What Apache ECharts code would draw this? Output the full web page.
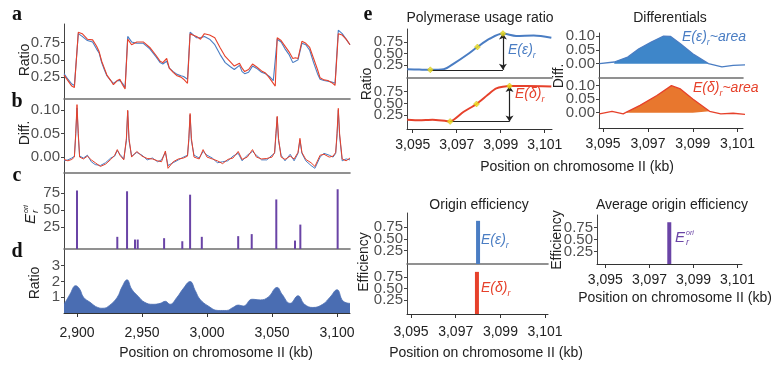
<!DOCTYPE html>
<html>
<head>
<meta charset="utf-8">
<script src="https://cdn.jsdelivr.net/npm/echarts@6/dist/echarts.min.js"></script>
<style>html,body{margin:0;padding:0;background:#fff}#chart{width:771px;height:367px}</style>
</head>
<body>
<div id="chart"></div>
<script>
// ---- panel a : polymerase usage ratio along the chromosome
var aPos = [2890, 2893, 2896, 2898, 2899.5, 2901, 2904, 2908, 2912, 2915, 2917, 2919, 2921, 2923, 2926, 2928, 2931, 2933, 2935, 2937,
  2938, 2939, 2942, 2946, 2951, 2956, 2961, 2964, 2966, 2969, 2971, 2974, 2977, 2980, 2982, 2985, 2986, 2987, 2989, 2992,
  2995, 2998, 3002, 3006, 3010, 3014, 3018, 3021, 3025, 3027, 3029, 3032, 3035, 3038, 3042, 3045, 3048, 3051, 3052.5, 3054,
  3057, 3060, 3063, 3066, 3068, 3070, 3071.5, 3073, 3076, 3079, 3082, 3085, 3087, 3090, 3093, 3096, 3098.5, 3099.5, 3101, 3104,
  3107, 3110];
var aRed = [0.28, 0.20, 0.12, 0.10, 0.12, 0.90, 0.88, 0.80, 0.79, 0.70, 0.62, 0.48, 0.38, 0.28, 0.20, 0.14, 0.20, 0.22, 0.14, 0.08,
  0.06, 0.80, 0.72, 0.76, 0.76, 0.68, 0.56, 0.48, 0.46, 0.52, 0.38, 0.32, 0.27, 0.25, 0.22, 0.16, 0.14, 0.88, 0.86, 0.84,
  0.80, 0.88, 0.86, 0.82, 0.68, 0.55, 0.47, 0.41, 0.45, 0.38, 0.33, 0.36, 0.44, 0.40, 0.34, 0.31, 0.24, 0.16, 0.12, 0.82,
  0.78, 0.70, 0.62, 0.52, 0.53, 0.52, 0.54, 0.77, 0.74, 0.68, 0.52, 0.36, 0.24, 0.21, 0.20, 0.17, 0.13, 0.12, 0.88, 0.86,
  0.80, 0.72];
var aBlue = [0.30, 0.22, 0.15, 0.13, 0.14, 0.88, 0.84, 0.78, 0.76, 0.66, 0.60, 0.46, 0.36, 0.27, 0.20, 0.16, 0.20, 0.20, 0.16, 0.10,
  0.10, 0.84, 0.76, 0.74, 0.74, 0.66, 0.54, 0.46, 0.44, 0.48, 0.38, 0.33, 0.29, 0.27, 0.26, 0.22, 0.20, 0.90, 0.87, 0.82,
  0.82, 0.84, 0.80, 0.72, 0.58, 0.46, 0.40, 0.36, 0.42, 0.33, 0.30, 0.32, 0.41, 0.38, 0.32, 0.30, 0.26, 0.20, 0.18, 0.80,
  0.76, 0.66, 0.58, 0.46, 0.48, 0.50, 0.52, 0.74, 0.72, 0.64, 0.46, 0.30, 0.22, 0.20, 0.19, 0.18, 0.16, 0.15, 0.93, 0.88,
  0.80, 0.72];

// ---- panel b : differentials
var bPos = [2890, 2893, 2896, 2898, 2899, 2900, 2901, 2902, 2905, 2908, 2911, 2914, 2918, 2922, 2926, 2929, 2931, 2933, 2936, 2938,
  2939, 2940, 2942, 2946, 2950, 2954, 2958, 2962, 2965, 2968, 2970, 2974, 2978, 2982, 2985, 2986, 2987, 2988, 2990, 2994,
  2997, 3000, 3004, 3008, 3012, 3016, 3020, 3024, 3027, 3031, 3035, 3038, 3042, 3046, 3050, 3052, 3053, 3054, 3055, 3057,
  3060, 3064, 3067, 3070, 3071.5, 3073, 3076, 3080, 3083, 3087, 3090, 3094, 3097, 3099, 3100, 3101, 3102, 3104, 3107, 3110];
var bRed = [-0.005, -0.008, -0.005, 0.0, 0.05, 0.112, 0.05, 0.0, -0.004, 0.002, -0.006, -0.012, -0.02, -0.015, -0.005, 0.004, 0.016, 0.004, -0.006, 0.04,
  0.10, 0.04, 0.0, 0.012, 0.002, -0.003, -0.004, -0.008, -0.01, 0.013, -0.024, -0.01, -0.004, -0.002, 0.002, 0.04, 0.093, 0.04, 0.0, -0.004,
  0.016, 0.0, -0.004, -0.008, -0.014, -0.005, -0.002, 0.012, -0.005, 0.0, 0.016, 0.0, -0.004, -0.003, 0.0, 0.01, 0.05, 0.087, 0.04, 0.0,
  -0.005, 0.002, -0.004, 0.01, 0.04, 0.01, -0.005, -0.012, -0.02, 0.004, 0.006, 0.0, 0.002, 0.01, 0.05, 0.104, 0.05, -0.004, -0.008, -0.002];
var bBlue = [-0.008, -0.006, -0.002, 0.002, 0.045, 0.105, 0.045, 0.002, -0.002, 0.004, -0.01, -0.016, -0.018, -0.012, -0.002, 0.002, 0.014, 0.006, -0.004, 0.035,
  0.098, 0.035, 0.002, 0.01, 0.004, -0.006, -0.002, -0.01, -0.006, 0.01, -0.018, -0.012, -0.006, 0.0, 0.004, 0.035, 0.09, 0.035, 0.004, -0.002,
  0.012, 0.004, -0.002, -0.012, -0.01, -0.008, 0.002, 0.008, -0.008, 0.004, 0.012, 0.004, -0.006, -0.006, 0.004, 0.008, 0.045, 0.085, 0.035, 0.004,
  -0.008, 0.006, -0.008, 0.008, 0.036, 0.008, -0.008, -0.018, -0.024, 0.0, 0.008, 0.004, 0.0, 0.008, 0.045, 0.1, 0.045, -0.008, -0.004, -0.006];

// ---- panel c : average origin efficiency
var cPos = [2900, 2931, 2938.5, 2944.6, 2946.7, 2967, 2981, 2987, 2996, 3024, 3034.4, 3053.3, 3067.7, 3071.8, 3100.5];
var cVal = [79, 11, 78, 7, 7, 9, 4.5, 73, 11, 12, 15, 66, 5.5, 29, 81];

// ---- panel d : ratio
var dPos = [2890, 2891, 2894.6, 2899, 2902, 2905, 2910, 2916, 2920, 2925, 2931, 2934.6, 2938.5, 2942, 2947, 2952, 2958.5, 2964, 2968, 2971.5,
  2977, 2981.5, 2987, 2991, 2994.6, 3001, 3008.5, 3015, 3020, 3024, 3028, 3034.6, 3041, 3047, 3054, 3057.7, 3064, 3070, 3075, 3081.5,
  3089, 3094.6, 3100, 3104.6, 3110];
var dVal = [0.6, 0.68, 1.19, 1.73, 1.52, 1.0, 0.68, 0.35, 0.3, 0.48, 1.0, 1.64, 2.1, 1.52, 1.06, 0.68, 0.55, 0.61, 0.74, 0.55,
  1.0, 1.52, 1.99, 1.41, 0.87, 0.44, 0.16, 0.16, 0.35, 0.5, 0.44, 0.87, 0.83, 1.0, 1.62, 1.19, 0.61, 1.09, 0.55, 0.35,
  0.55, 1.0, 1.47, 0.76, 0.61];

// ---- panel e : zoom on one origin
var epsPos = [3094.75, 3095.3, 3095.8, 3096.4, 3096.9, 3097.45, 3097.94, 3098.5, 3099.1, 3099.7, 3100.5, 3101.3];
var epsRatio = [0.157, 0.15, 0.145, 0.157, 0.29, 0.465, 0.64, 0.82, 0.93, 0.88, 0.89, 0.84];
var delPos = [3094.75, 3095.3, 3095.9, 3096.7, 3097.3, 3097.9, 3098.4, 3098.8, 3099.4, 3100.2, 3101.3];
var delRatio = [0.157, 0.145, 0.157, 0.12, 0.32, 0.49, 0.68, 0.82, 0.87, 0.87, 0.86];
var epsKnots = [[3095.8, 0.145], [3097.94, 0.64], [3099.1, 0.93]];
var delKnots = [[3096.7, 0.12], [3097.9, 0.49], [3099.4, 0.87]];

var epsDiffPos = [3094.84, 3095.5, 3096.1, 3096.6, 3097.15, 3097.7, 3098.0, 3098.45, 3099.0, 3099.7, 3100.3, 3100.8, 3101.4];
var epsDiff = [0.0, 0.006, 0.024, 0.054, 0.078, 0.10, 0.099, 0.072, 0.036, 0.0, -0.012, -0.006, -0.004];
var delDiffPos = [3094.84, 3095.4, 3095.9, 3096.0, 3096.65, 3097.4, 3098.05, 3098.45, 3099.0, 3099.75, 3100.25, 3100.8, 3101.4];
var delDiff = [-0.004, 0.005, -0.004, 0.0, 0.027, 0.063, 0.099, 0.087, 0.05, 0.005, -0.004, -0.002, -0.007];
var epsArea = [3095.5, 3099.7];
var delArea = [3096.0, 3099.75];

var originPos = [3098.0, 3097.95, 3097.9];   // eps, delta, average
var originEff = [0.88, 0.86, 0.86];

var kbTicks = [2900, 2950, 3000, 3050, 3100];
var zoomTicks = [3095, 3097, 3099, 3101];

var BLUE = '#4a7dc3', RED = '#e6412b', PURPLE = '#6a44a6';
var FONT = 'Liberation Sans';

function zip(xs, ys) { return xs.map(function(x, i) { return [x, ys[i]]; }); }
function within(pts, r) { return pts.filter(function(p) { return p[0] >= r[0] && p[0] <= r[1]; }); }
function kbFmt(v) { return String(Math.round(v)).replace(/\B(?=(\d{3})+(?!\d))/g, ','); }

var boxes = [
  [64, 24, 286, 75], [64, 99, 286, 74], [64, 173, 286, 76], [64, 249, 286, 64],
  [407, 29, 145, 49], [407, 78, 145, 51], [599, 33, 144, 45], [599, 78, 144, 50],
  [407, 213, 141, 51], [407, 264, 141, 50], [597, 215, 145, 49]
];
var xr = [[2890, 3110], [2890, 3110], [2890, 3110], [2890, 3110],
  [3094.74, 3101.33], [3094.74, 3101.33], [3094.82, 3101.24], [3094.82, 3101.24],
  [3094.82, 3101.13], [3094.82, 3101.13], [3094.62, 3101.2]];
var yr = [[-0.067, 1.02], [-0.034, 0.124], [-6.9, 104.9], [0, 4.05],
  [-0.033, 1.03], [-0.04, 1.04], [-0.052, 0.111], [-0.056, 0.127],
  [-0.03, 1.045], [-0.05, 1.03], [-0.006, 1.01]];
var yTicks = [[0.25, 0.5, 0.75], [0, 0.05, 0.1], [25, 50, 75], [1, 2, 3],
  [0.25, 0.5, 0.75], [0.25, 0.5, 0.75], [0, 0.05, 0.1], [0, 0.05, 0.1],
  [0.25, 0.5, 0.75], [0.25, 0.5, 0.75], [0.25, 0.5, 0.75]];
var yDigits = [2, 2, 0, 0, 2, 2, 2, 2, 2, 2, 2];
// which grids carry a labelled x axis, and the label margin
var xLabelled = {3: 13, 5: 9, 7: 9, 9: 11, 10: 9};

var grids = [], xAxes = [], yAxes = [], tickLabels = [];
boxes.forEach(function(b, i) {
  grids.push({left: b[0], top: b[1], width: b[2], height: b[3], containLabel: false, outerBoundsMode: 'none'});
  var lab = xLabelled[i];
  var ticks = i < 4 ? kbTicks : zoomTicks;
  xAxes.push({
    type: 'value', gridIndex: i, min: xr[i][0], max: xr[i][1], splitLine: {show: false},
    axisLine: {onZero: false, lineStyle: lab ? {color: '#333', width: 1} : {color: '#6e6e6e', width: 1.6}},
    axisTick: {show: !!lab, customValues: ticks, length: 4, lineStyle: {color: '#333'}},
    axisLabel: {show: !!lab, customValues: ticks, margin: lab || 8, showMinLabel: true, showMaxLabel: true,
      formatter: kbFmt, color: '#222', fontSize: 14, fontFamily: FONT}
  });
  yAxes.push({
    type: 'value', gridIndex: i, min: yr[i][0], max: yr[i][1], splitLine: {show: false},
    axisLine: {show: true, onZero: false, lineStyle: {color: '#444', width: 1}},
    axisTick: {customValues: yTicks[i], length: 3, lineStyle: {color: '#444'}},
    axisLabel: {show: false}
  });
  // y tick labels placed through the grid's own scale (axis labels get thinned when packed this tight)
  tickLabels.push({
    type: 'scatter', xAxisIndex: i, yAxisIndex: i, clip: false, silent: true, symbolSize: 0,
    data: yTicks[i].map(function(t) { return [xr[i][0], t]; }),
    label: {show: true, position: 'left', distance: 4, color: '#222', fontSize: 15, fontFamily: FONT,
      formatter: (function(d) { return function(p) { return p.value[1].toFixed(d); }; })(yDigits[i])}
  });
});

function line(g, pts, color, w, extra) {
  var s = {type: 'line', xAxisIndex: g, yAxisIndex: g, data: pts, showSymbol: false, symbol: 'none',
    lineStyle: {color: color, width: w}, itemStyle: {color: color}};
  for (var k in extra) s[k] = extra[k];
  return s;
}
function bars(g, pts, color, w) {
  return {type: 'custom', xAxisIndex: g, yAxisIndex: g, data: pts, itemStyle: {color: color},
    renderItem: function(params, api) {
      var top = api.coord([api.value(0), api.value(1)]);
      var cs = params.coordSys;
      return {type: 'rect', shape: {x: top[0] - w / 2, y: top[1], width: w, height: cs.y + cs.height - top[1]}, style: api.style()};
    }};
}
function knots(g, pts) {
  var a = pts[0], c = pts[2];
  return {type: 'scatter', xAxisIndex: g, yAxisIndex: g, data: pts, symbol: 'diamond', symbolSize: 6, z: 5,
    itemStyle: {color: '#f2e21a', borderColor: '#b8a800', borderWidth: 0.5},
    markLine: {silent: true, symbol: ['none', 'none'], label: {show: false}, animation: false,
      lineStyle: {color: '#222', width: 1.2, type: 'solid'},
      data: [
        [{coord: [a[0], a[1]]}, {coord: [c[0], a[1]]}],
        [{coord: [c[0], a[1]], symbol: 'arrow', symbolSize: 6}, {coord: [c[0], c[1]], symbol: 'arrow', symbolSize: 6}]
      ]}};
}

var series = [
  line(0, zip(aPos, aBlue), BLUE, 1.1), line(0, zip(aPos, aRed), RED, 1.1),
  line(1, zip(bPos, bBlue), BLUE, 1), line(1, zip(bPos, bRed), RED, 1),
  bars(2, zip(cPos, cVal), PURPLE, 2),
  line(3, zip(dPos, dVal), '#4a6db2', 0.8, {smooth: 0.45, areaStyle: {color: '#4a6db2', opacity: 1, origin: 'start'}}),
  line(4, zip(epsPos, epsRatio), BLUE, 2, {smooth: 0.3}), knots(4, epsKnots),
  line(5, zip(delPos, delRatio), RED, 2, {smooth: 0.2}), knots(5, delKnots),
  line(6, within(zip(epsDiffPos, epsDiff), epsArea), '#3e86c9', 0, {areaStyle: {color: '#3e86c9', opacity: 1}}),
  line(6, zip(epsDiffPos, epsDiff), BLUE, 1.3),
  line(7, within(zip(delDiffPos, delDiff), delArea), '#e8772e', 0, {areaStyle: {color: '#e8772e', opacity: 1}}),
  line(7, zip(delDiffPos, delDiff), RED, 1.3),
  bars(8, [[originPos[0], originEff[0]]], BLUE, 4),
  bars(9, [[originPos[1], originEff[1]]], RED, 4),
  bars(10, [[originPos[2], originEff[2]]], PURPLE, 4)
].concat(tickLabels);

function txt(x, y, s, opt) {
  opt = opt || {};
  return {type: 'text', x: x, y: y, rotation: opt.rot || 0, silent: true,
    style: {text: s, fill: opt.color || '#222', align: opt.align || 'center', verticalAlign: 'middle',
      font: opt.font || ('14px "' + FONT + '"'), rich: opt.rich}};
}
function sub(color) {
  return {m: {fill: color, fontSize: 14, fontStyle: 'italic', fontFamily: FONT, lineHeight: 20},
    s: {fill: color, fontSize: 9, fontStyle: 'italic', fontFamily: FONT, verticalAlign: 'bottom', lineHeight: 20}};
}
function eori(x, y, rot) {
  var col = rot ? '#222' : PURPLE;
  return {type: 'group', x: x, y: y, rotation: rot, silent: true, children: [
    {type: 'text', x: 0, y: 0, style: {text: 'E', font: 'italic 15px "' + FONT + '"', fill: col, align: 'right', verticalAlign: 'middle'}},
    {type: 'text', x: 1, y: 4, style: {text: 'r', font: 'italic 9px "' + FONT + '"', fill: col, align: 'left', verticalAlign: 'middle'}},
    {type: 'text', x: 1, y: -5, style: {text: 'ori', font: 'italic 7px "' + FONT + '"', fill: col, align: 'left', verticalAlign: 'middle'}}
  ]};
}
var letterFont = 'bold 20px "Liberation Serif"';
var up = Math.PI / 2;
var graphic = [
  txt(17, 15, 'a', {font: letterFont, color: '#111'}),
  txt(17, 102, 'b', {font: letterFont, color: '#111'}),
  txt(17, 176, 'c', {font: letterFont, color: '#111'}),
  txt(17, 252, 'd', {font: letterFont, color: '#111'}),
  txt(368, 15, 'e', {font: letterFont, color: '#111'}),
  txt(25, 60, 'Ratio', {rot: up}),
  txt(25, 133, 'Diff.', {rot: up}),
  eori(31, 214, up),
  txt(35, 283, 'Ratio', {rot: up}),
  txt(216, 353, 'Position on chromosome II (kb)'),
  txt(480, 18, 'Polymerase usage ratio'),
  txt(670, 18, 'Differentials'),
  txt(367, 84, 'Ratio', {rot: up}),
  txt(559, 76, 'Diff.', {rot: up}),
  txt(577, 167, 'Position on chromosome II (kb)'),
  txt(508, 50, '{m|E(ε)}{s|r}', {align: 'left', rich: sub(BLUE)}),
  txt(515, 94, '{m|E(δ)}{s|r}', {align: 'left', rich: sub(RED)}),
  txt(682, 37, '{m|E(ε)}{s|r}{m|~area}', {align: 'left', rich: sub(BLUE)}),
  txt(693, 88, '{m|E(δ)}{s|r}{m|~area}', {align: 'left', rich: sub(RED)}),
  txt(479, 205, 'Origin efficiency'),
  txt(672, 205, 'Average origin efficiency'),
  txt(364, 262, 'Efficiency', {rot: up}),
  txt(557, 240, 'Efficiency', {rot: up}),
  txt(481, 240, '{m|E(ε)}{s|r}', {align: 'left', rich: sub(BLUE)}),
  txt(481, 288, '{m|E(δ)}{s|r}', {align: 'left', rich: sub(RED)}),
  eori(685, 238, 0),
  txt(486, 353, 'Position on chromosome II (kb)'),
  txt(675, 298, 'Position on chromosome II (kb)')
];

var chart = echarts.init(document.getElementById('chart'), null, {renderer: 'canvas'});
chart.setOption({
  animation: false,
  backgroundColor: '#fff',
  textStyle: {fontFamily: FONT},
  grid: grids, xAxis: xAxes, yAxis: yAxes,
  series: series,
  graphic: graphic
});
</script>
</body>
</html>
